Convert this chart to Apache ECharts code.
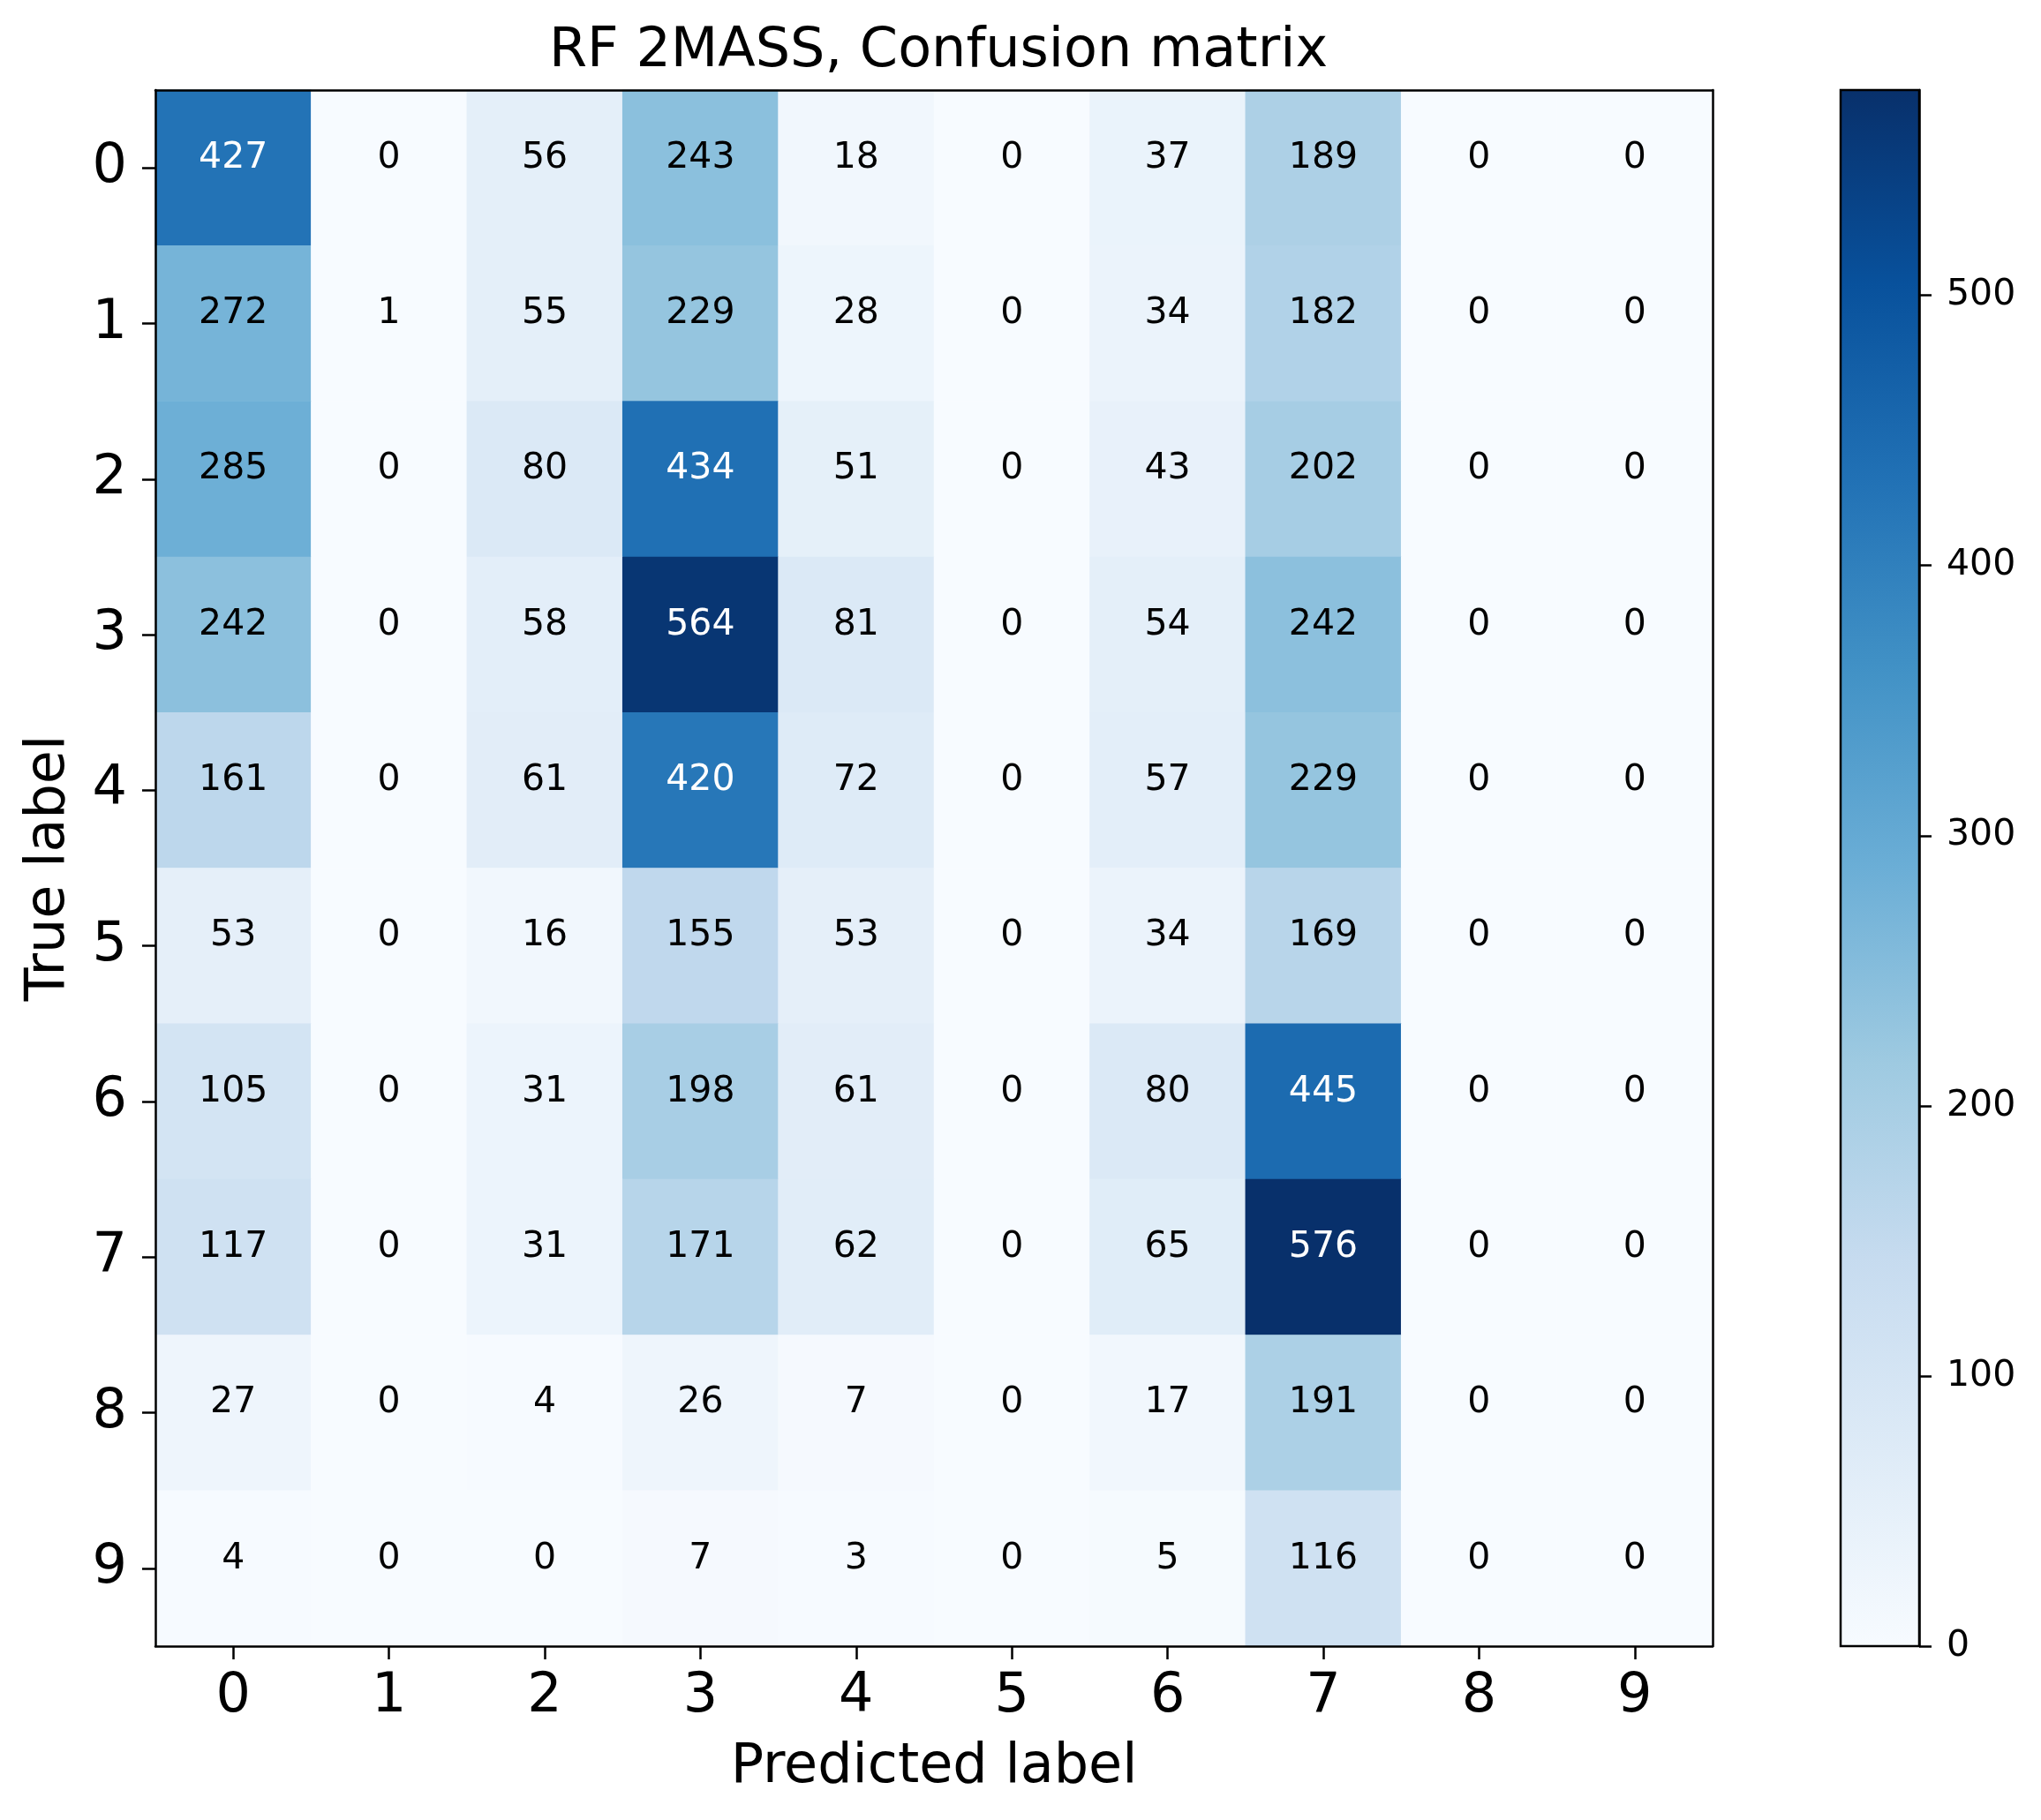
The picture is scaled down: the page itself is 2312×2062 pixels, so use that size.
<!DOCTYPE html>
<html>
<head>
<meta charset="utf-8">
<title>RF 2MASS, Confusion matrix</title>
<script src="https://cdn.jsdelivr.net/npm/echarts@6/dist/echarts.min.js"></script>
<style>
  html, body { margin: 0; padding: 0; background: #fff; }
  #chart { width: 2312px; height: 2062px; }
</style>
</head>
<body>
<div id="chart"></div>
<script>
// class labels (0..9)
const predictedLabels = ['0', '1', '2', '3', '4', '5', '6', '7', '8', '9']
const trueLabels = ['0', '1', '2', '3', '4', '5', '6', '7', '8', '9']

// confusion matrix, one row per true label
const row0 = [427, 0, 56, 243, 18, 0, 37, 189, 0, 0]
const row1 = [272, 1, 55, 229, 28, 0, 34, 182, 0, 0]
const row2 = [285, 0, 80, 434, 51, 0, 43, 202, 0, 0]
const row3 = [242, 0, 58, 564, 81, 0, 54, 242, 0, 0]
const row4 = [161, 0, 61, 420, 72, 0, 57, 229, 0, 0]
const row5 = [53, 0, 16, 155, 53, 0, 34, 169, 0, 0]
const row6 = [105, 0, 31, 198, 61, 0, 80, 445, 0, 0]
const row7 = [117, 0, 31, 171, 62, 0, 65, 576, 0, 0]
const row8 = [27, 0, 4, 26, 7, 0, 17, 191, 0, 0]
const row9 = [4, 0, 0, 7, 3, 0, 5, 116, 0, 0]
const confusion = [row0, row1, row2, row3, row4, row5, row6, row7, row8, row9]

// colorbar ticks
const colorbarTicks = [0, 100, 200, 300, 400, 500]

// matplotlib "Blues"
const blues = ['#f7fbff', '#deebf7', '#c6dbef', '#9ecae1', '#6baed6', '#4292c6', '#2171b5', '#08519c', '#08306b']

const FONT = 'DejaVu Sans'
const vmax = Math.max(...confusion.flat())
const thresh = vmax / 2

let cells = []
confusion.forEach((row, i) => {
  row.forEach((v, j) => {
    cells.push({
      value: [j, i, v],
      label: { color: v > thresh ? '#ffffff' : '#000000' }
    })
  })
})

const chart = echarts.init(document.getElementById('chart'), null, { renderer: 'canvas' })

const axisLineStyle = { color: '#000', width: 2.5 }

let option = {
  animation: false,
  backgroundColor: '#fff',
  title: {
    text: 'RF 2MASS, Confusion matrix',
    left: 1058,
    top: 23,
    textAlign: 'center',
    textStyle: { fontFamily: FONT, fontSize: 62, fontWeight: 'normal', color: '#000' }
  },
  grid: [
    { left: 176, top: 102, width: 1764, height: 1763 },
    { left: 2085, top: 102, width: 89, height: 1763 }
  ],
  visualMap: {
    type: 'continuous',
    show: false,
    seriesIndex: 0,
    dimension: 2,
    min: 0,
    max: vmax,
    inRange: { color: blues }
  },
  xAxis: [
    {
      type: 'category',
      gridIndex: 0,
      data: predictedLabels,
      position: 'bottom',
      z: 10,
      name: 'Predicted label',
      nameLocation: 'middle',
      nameGap: 107,
      nameTextStyle: { fontFamily: FONT, fontSize: 62, color: '#000' },
      axisLine: { show: true, lineStyle: axisLineStyle },
      axisTick: { show: true, alignWithLabel: true, length: 15, lineStyle: axisLineStyle },
      axisLabel: { fontFamily: FONT, fontSize: 62, color: '#000', margin: 27 },
      splitLine: { show: false }
    },
    {
      type: 'category',
      gridIndex: 0,
      data: predictedLabels,
      position: 'top',
      z: 10,
      axisLine: { show: true, lineStyle: axisLineStyle },
      axisTick: { show: false },
      axisLabel: { show: false }
    },
    {
      type: 'value',
      gridIndex: 1,
      min: 0,
      max: 1,
      show: false
    }
  ],
  yAxis: [
    {
      type: 'category',
      gridIndex: 0,
      data: trueLabels,
      inverse: true,
      position: 'left',
      z: 10,
      name: 'True label',
      nameLocation: 'middle',
      nameGap: 89,
      nameTextStyle: { fontFamily: FONT, fontSize: 62, color: '#000' },
      axisLine: { show: true, lineStyle: axisLineStyle },
      axisTick: { show: true, alignWithLabel: true, length: 15, lineStyle: axisLineStyle },
      axisLabel: { fontFamily: FONT, fontSize: 62, color: '#000', margin: 32 },
      splitLine: { show: false }
    },
    {
      type: 'category',
      gridIndex: 0,
      data: trueLabels,
      inverse: true,
      position: 'right',
      z: 10,
      axisLine: { show: true, lineStyle: axisLineStyle },
      axisTick: { show: false },
      axisLabel: { show: false }
    },
    {
      type: 'value',
      gridIndex: 1,
      min: 0,
      max: vmax,
      position: 'right',
      z: 10,
      axisLine: { show: true, onZero: false, lineStyle: axisLineStyle },
      axisTick: { show: true, inside: false, length: 14, lineStyle: axisLineStyle, customValues: colorbarTicks },
      axisLabel: { fontFamily: FONT, fontSize: 41, color: '#000', margin: 31, customValues: colorbarTicks },
      splitLine: { show: false }
    }
  ],
  series: [
    {
      type: 'heatmap',
      xAxisIndex: 0,
      yAxisIndex: 0,
      data: cells,
      label: {
        show: true,
        fontFamily: FONT,
        fontSize: 41,
        offset: [0, -11],
        formatter: p => p.value[2]
      },
      emphasis: { disabled: true }
    },
    {
      type: 'custom',
      xAxisIndex: 2,
      yAxisIndex: 2,
      silent: true,
      data: [[0, 1, 0, vmax]],
      renderItem(params, api) {
        const p0 = api.coord([api.value(0), api.value(3)])
        const p1 = api.coord([api.value(1), api.value(2)])
        const stops = blues.map((c, k) => ({ offset: k / (blues.length - 1), color: c }))
        return {
          type: 'rect',
          shape: { x: p0[0], y: p0[1], width: p1[0] - p0[0], height: p1[1] - p0[1] },
          style: {
            fill: new echarts.graphic.LinearGradient(0, 1, 0, 0, stops),
            stroke: '#000',
            lineWidth: 2.5
          }
        }
      }
    }
  ]
}

chart.setOption(option)
</script>
</body>
</html>
